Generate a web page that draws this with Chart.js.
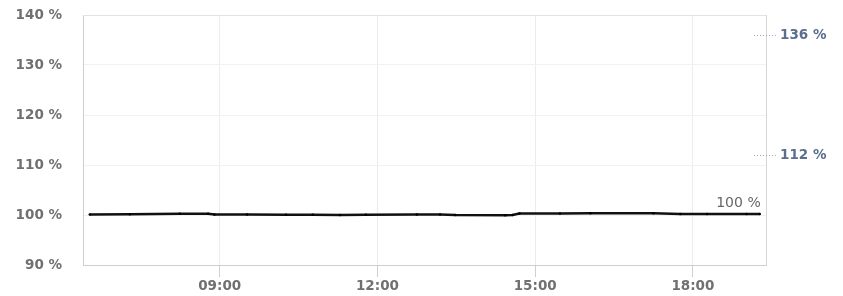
<!DOCTYPE html>
<html>
<head>
<meta charset="utf-8">
<script src="https://cdn.jsdelivr.net/npm/chart.js@4/dist/chart.umd.min.js"></script>
<style>
html,body{margin:0;padding:0;background:#fff;}
#wrap{width:843px;height:296px;}
</style>
</head>
<body>
<div id="wrap"><canvas id="c" width="843" height="296"></canvas></div>
<script>
// time in hours of the day
const hours = [6.53, 7.29, 8.24, 8.78, 8.9, 9.52, 10.26, 10.77, 11.29, 11.78, 12.75, 13.19, 13.48, 14.43, 14.57, 14.7, 15.47, 16.05, 17.25, 17.76, 18.27, 19.02, 19.27];
const values = [100.1, 100.15, 100.25, 100.25, 100.1, 100.1, 100.05, 100.05, 100.0, 100.05, 100.1, 100.1, 100.0, 99.95, 100.0, 100.3, 100.3, 100.35, 100.35, 100.2, 100.2, 100.2, 100.2];
const xTickHours = [9, 12, 15, 18];
const yTicks = [90, 100, 110, 120, 130, 140];
const markerValues = [136, 112];
const lastLabel = "100 %";

const points = hours.map((h, i) => ({x: h, y: values[i]}));

const framePlugin = {
  id: 'frame',
  beforeDatasetsDraw(chart) {
    const {ctx, chartArea: a} = chart;
    ctx.save();
    ctx.strokeStyle = '#e3e3e3';
    ctx.lineWidth = 1;
    ctx.beginPath();
    ctx.moveTo(a.left, a.top + 0.5);
    ctx.lineTo(a.right, a.top + 0.5);
    ctx.stroke();
    ctx.strokeStyle = '#d6d6d6';
    ctx.beginPath();
    ctx.moveTo(a.right + 0.5, a.top);
    ctx.lineTo(a.right + 0.5, a.bottom);
    ctx.stroke();
    ctx.restore();
  }
};

const labelPlugin = {
  id: 'labels',
  afterDatasetsDraw(chart) {
    const {ctx, chartArea: a} = chart;
    const ys = chart.scales.y;
    const meta = chart.getDatasetMeta(0);
    const last = meta.data[meta.data.length - 1];
    ctx.save();
    ctx.font = '14px "DejaVu Sans"';
    ctx.fillStyle = '#666';
    ctx.textAlign = 'right';
    ctx.textBaseline = 'bottom';
    ctx.fillText(lastLabel, last.x + 1, last.y - 4);
    markerValues.forEach(v => {
      const y = Math.round(ys.getPixelForValue(v)) + 0.5;
      ctx.strokeStyle = '#9aa9bf';
      ctx.lineWidth = 1;
      ctx.setLineDash([1, 2]);
      ctx.beginPath();
      ctx.moveTo(a.right - 12, y);
      ctx.lineTo(a.right + 11, y);
      ctx.stroke();
      ctx.setLineDash([]);
      ctx.font = 'bold 13.5px "DejaVu Sans"';
      ctx.fillStyle = '#5b6e8c';
      ctx.textAlign = 'left';
      ctx.textBaseline = 'middle';
      ctx.fillText(v + ' %', a.right + 14, y);
    });
    ctx.restore();
  }
};

new Chart(document.getElementById('c'), {
  type: 'line',
  data: {
    datasets: [{
      data: points,
      borderColor: '#111',
      borderWidth: 2.6,
      pointRadius: 1.3,
      pointBackgroundColor: '#000',
      pointBorderWidth: 0,
      tension: 0
    }]
  },
  options: {
    responsive: false,
    animation: false,
    layout: {padding: {left: 0, right: 77, top: 15, bottom: 0}},
    plugins: {legend: {display: false}, tooltip: {enabled: false}},
    scales: {
      x: {
        type: 'linear',
        min: 6.4,
        max: 19.39,
        afterBuildTicks(scale) { scale.ticks = xTickHours.map(v => ({value: v})); },
        afterFit(scale) { scale.height = 31; scale.paddingLeft = 0; scale.paddingRight = 0; },
        ticks: {
          callback: v => String(v).padStart(2, '0') + ':00',
          color: '#707070',
          font: {family: 'DejaVu Sans', size: 13.5, weight: 'bold'},
          padding: 1,
          maxRotation: 0
        },
        grid: {color: '#ececec', tickColor: '#cfcfcf', tickLength: 12, lineWidth: 1},
        border: {display: true, color: '#cfcfcf'}
      },
      y: {
        min: 90,
        max: 140,
        afterBuildTicks(scale) { scale.ticks = yTicks.map(v => ({value: v})); },
        afterFit(scale) { scale.width = 83; scale.paddingTop = 0; scale.paddingBottom = 0; },
        ticks: {
          callback: v => v + ' %',
          color: '#707070',
          font: {family: 'DejaVu Sans', size: 13.5, weight: 'bold'},
          padding: 21
        },
        grid: {color: '#f2f2f2', drawTicks: false},
        border: {display: true, color: '#cfcfcf'}
      }
    }
  },
  plugins: [framePlugin, labelPlugin]
});
</script>
</body>
</html>
